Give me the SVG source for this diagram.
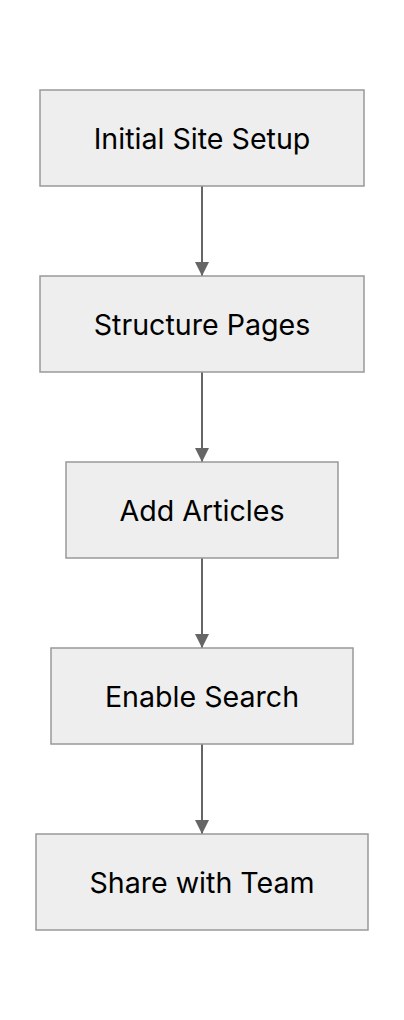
<svg xmlns="http://www.w3.org/2000/svg" width="404" height="1020" viewBox="0 0 404 1020">
<style>
.node rect{fill:#eeeeee;stroke:#999999;stroke-width:1.5}
.node text{font-family:Inter,"Noto Sans","Liberation Sans",sans-serif;font-size:28.6px;fill:#000;text-anchor:middle;dominant-baseline:central}
.edge{stroke:#666666;stroke-width:2;fill:none}
</style>
<defs>
<marker id="arr" markerWidth="14" markerHeight="14" refX="14" refY="7" orient="auto" markerUnits="userSpaceOnUse">
<path d="M0,0 L14,7 L0,14 Z" fill="#666666"/>
</marker>
</defs>
<rect width="404" height="1020" fill="#ffffff"/>
<g id="connectors">
<line class="edge" x1="202" y1="186" x2="202" y2="276" marker-end="url(#arr)"/>
<line class="edge" x1="202" y1="372" x2="202" y2="462" marker-end="url(#arr)"/>
<line class="edge" x1="202" y1="558" x2="202" y2="648" marker-end="url(#arr)"/>
<line class="edge" x1="202" y1="744" x2="202" y2="834" marker-end="url(#arr)"/>
</g>
<g id="n1" class="node"><rect x="40" y="90" width="324" height="96"/><text x="202" y="138">Initial Site Setup</text></g>
<g id="n2" class="node"><rect x="40" y="276" width="324" height="96"/><text x="202" y="324">Structure Pages</text></g>
<g id="n3" class="node"><rect x="66" y="462" width="272" height="96"/><text x="202" y="510">Add Articles</text></g>
<g id="n4" class="node"><rect x="51" y="648" width="302" height="96"/><text x="202" y="696">Enable Search</text></g>
<g id="n5" class="node"><rect x="36" y="834" width="332" height="96"/><text x="202" y="882">Share with Team</text></g>
</svg>
